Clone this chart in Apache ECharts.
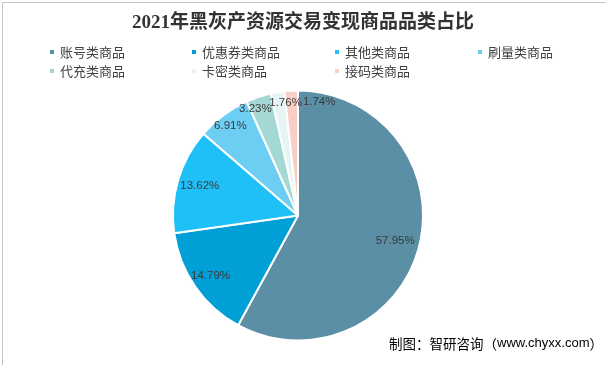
<!DOCTYPE html>
<html>
<head>
<meta charset="utf-8">
<script src="https://cdn.jsdelivr.net/npm/echarts@6/dist/echarts.min.js"></script>
<style>
  html, body { margin: 0; padding: 0; background: #fff; }
  #chart { width: 606px; height: 365px; }
</style>
</head>
<body>
<div id="chart"></div>
<script>
// ---- data ----
var titleText = '2021年黑灰产资源交易变现商品品类占比';
var categories = ['账号类商品', '优惠券类商品', '其他类商品', '刷量类商品', '代充类商品', '卡密类商品', '接码类商品'];
var shares = [57.95, 14.79, 13.62, 6.91, 3.23, 1.76, 1.74];
var sourceText = ['制图：智研咨询（', 'www.chyxx.com', '）'];

// ---- styles ----
var colors = ['#5b8fa6', '#009fd6', '#1fc0f7', '#6dcef3', '#a3d8d5', '#e7f4f6', '#f7cfc7'];
var labelNudge = { // per-slice label offset in px, mimicking the original's label placement
  '账号类商品': [-6, -1],
  '其他类商品': [4, 0],
  '刷量类商品': [-4, -4],
  '代充类商品': [-9, -6],
  '卡密类商品': [5, -8],
  '接码类商品': [27, -7]
};
var legendCols = [48, 190, 333, 476];
var legendRows = [45, 64];

var chart = echarts.init(document.getElementById('chart'), null, { renderer: 'canvas' });

var pieData = categories.map(function (c, i) {
  return { name: c, value: shares[i], itemStyle: { color: colors[i] } };
});
var labelData = categories.map(function (c, i) {
  var item = { name: c, value: shares[i] };
  if (labelNudge[c]) item.label = { offset: labelNudge[c] };
  return item;
});

var legends = categories.map(function (c, i) {
  var col = i % 4, row = Math.floor(i / 4);
  return {
    data: [c],
    left: legendCols[col],
    top: legendRows[row],
    padding: 0,
    itemWidth: 6,
    itemHeight: 6,
    icon: 'rect',
    selectedMode: false,
    textStyle: {
      fontSize: 13,
      color: '#404040',
      fontFamily: "'Noto Sans CJK SC', sans-serif",
      lineHeight: 14
    }
  };
});

var option = {
  backgroundColor: '#ffffff',
  animation: false,
  title: {
    text: titleText,
    left: 'center',
    top: 14,
    padding: 0,
    textStyle: {
      fontSize: 19,
      fontWeight: 'bold',
      color: '#333333',
      fontFamily: "'Liberation Serif', 'Noto Sans CJK SC', serif"
    }
  },
  legend: legends,
  graphic: [
    {
      type: 'rect',
      left: 0, top: 0,
      shape: { x: 0.5, y: 0.5, width: 605, height: 364 },
      style: { fill: 'none', stroke: '#c4c4c4', lineWidth: 1 },
      silent: true
    },
    {
      type: 'text',
      left: 389,
      top: 337,
      style: {
        text: '{a|' + sourceText[0] + '}{b|' + sourceText[1] + '}{a|' + sourceText[2] + '}',
        rich: {
          a: { fontSize: 13.5, color: '#262626', fontFamily: "'Noto Sans CJK SC', sans-serif" },
          b: { fontSize: 13, color: '#1f3a8c', fontFamily: "'Liberation Sans', Arial, sans-serif" }
        }
      },
      silent: true
    }
  ],
  series: [
    {
      type: 'pie',
      center: [298, 215.5],
      radius: [0, 125],
      startAngle: 90,
      clockwise: true,
      avoidLabelOverlap: false,
      label: { show: false },
      labelLine: { show: false },
      emphasis: { disabled: true },
      itemStyle: { borderColor: '#ffffff', borderWidth: 2 },
      data: pieData
    },
    {
      type: 'pie',
      center: [298, 215.5],
      radius: [82, 125],
      startAngle: 90,
      clockwise: true,
      silent: true,
      avoidLabelOverlap: false,
      minShowLabelAngle: 0,
      labelLayout: { hideOverlap: false },
      emphasis: { disabled: true },
      itemStyle: { color: 'rgba(0,0,0,0)', borderWidth: 0 },
      labelLine: { show: false },
      label: {
        show: true,
        position: 'inside',
        formatter: function (p) { return p.value.toFixed(2) + '%'; },
        fontSize: 11.5,
        color: '#3a3a3a',
        fontFamily: "'Liberation Sans', Arial, sans-serif"
      },
      data: labelData
    }
  ]
};

chart.setOption(option);
</script>
</body>
</html>
